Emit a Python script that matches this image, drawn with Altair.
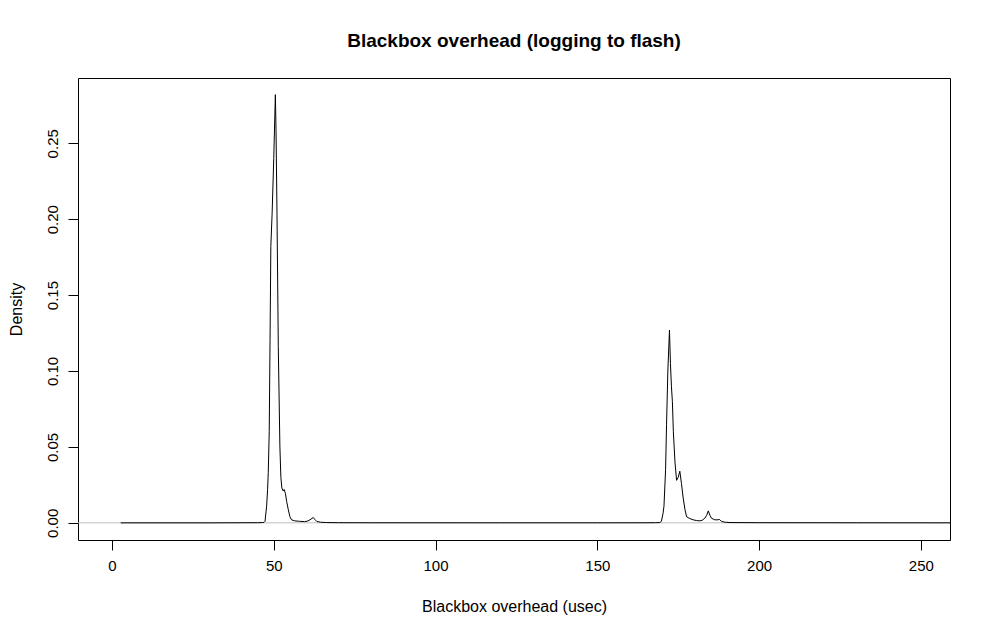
import altair as alt
import pandas as pd

# Density curve (x in usec, density)
xs = [2.7, 30, 45, 46.5, 47.0, 47.3, 47.8, 48.1, 48.3, 48.6, 48.85, 49.1, 49.5, 50.0, 50.5,
      50.7, 51.0, 51.4, 51.9, 52.2, 52.5, 52.9, 53.2, 53.6, 54.0, 54.5, 55.0, 55.5, 56.5,
      58.0, 59.5, 60.5, 61.2, 62.2, 62.8, 63.3, 64.5, 66.3, 70, 80, 120, 150, 165, 168,
      169.3, 169.8, 170.3, 170.6, 171.1, 171.4, 171.8, 172.3, 172.6, 172.9, 173.2, 173.5,
      174.0, 174.5, 175.0, 175.5, 176.0, 176.5, 177.1, 177.6, 178.6, 179.6, 180.7, 181.7,
      182.5, 183.2, 183.8, 184.3, 184.8, 185.3, 186.3, 187.3, 187.8, 188.4, 189.5, 191,
      200, 230, 262]
ys = [0.0, 0.0, 0.0001, 0.0002, 0.0003, 0.001, 0.011, 0.022, 0.033, 0.06, 0.12, 0.182,
      0.204, 0.24, 0.282, 0.259, 0.204, 0.116, 0.050, 0.030, 0.023, 0.021, 0.022, 0.0195,
      0.014, 0.0086, 0.004, 0.002, 0.0013, 0.001, 0.0008, 0.0012, 0.002, 0.0035, 0.002,
      0.0009, 0.0004, 0.0002, 0.0001, 0.00005, 0.00003, 0.00003, 0.00005, 0.0001,
      0.0002, 0.001, 0.006, 0.011, 0.035, 0.065, 0.10, 0.127, 0.105, 0.090, 0.080, 0.060,
      0.040, 0.028, 0.030, 0.034, 0.026, 0.017, 0.0086, 0.004, 0.0028, 0.002, 0.0015,
      0.0013, 0.0018, 0.003, 0.005, 0.0079, 0.005, 0.003, 0.002, 0.002, 0.0022, 0.0009,
      0.0004, 0.0002, 0.0001, 0.00005, 0.0]

x_ticks = [0, 50, 100, 150, 200, 250]
y_ticks = [0.0, 0.05, 0.10, 0.15, 0.20, 0.25]

df = pd.DataFrame({"x": xs, "y": ys})
FONT = "Liberation Sans"

xscale = alt.Scale(domain=[-10.5, 259.0], nice=False, zero=False)
yscale = alt.Scale(domain=[-0.0113, 0.2930], nice=False, zero=False)

xaxis = alt.Axis(values=x_ticks, title="Blackbox overhead (usec)", format="d",
                 grid=False, domain=False, tickSize=10, tickColor="#000",
                 labelFontSize=15, titleFontSize=16, labelFont=FONT, titleFont=FONT,
                 labelColor="#000", titleColor="#000", labelPadding=8, titlePadding=25,
                 titleFontWeight="normal")
yaxis = alt.Axis(values=y_ticks, title="Density", format=".2f",
                 grid=False, domain=False, tickSize=10, tickColor="#000",
                 labelFontSize=15, titleFontSize=16, labelFont=FONT, titleFont=FONT,
                 labelColor="#000", titleColor="#000", labelAngle=270,
                 labelAlign="center", labelBaseline="bottom", labelPadding=8,
                 titlePadding=21, titleFontWeight="normal")

zero = alt.Chart(pd.DataFrame({"z": [0.0]})).mark_rule(color="#BEBEBE", strokeWidth=1).encode(
    y=alt.Y("z:Q", scale=yscale, axis=yaxis)
)

line = alt.Chart(df).mark_line(color="#000", strokeWidth=1, clip=True).encode(
    x=alt.X("x:Q", scale=xscale, axis=xaxis),
    y=alt.Y("y:Q", scale=yscale, axis=yaxis),
)

chart = alt.layer(zero, line).properties(
    width=872, height=462,
    autosize=alt.AutoSizeParams(type="none"),
    padding={"left": 70, "top": 70, "right": 20, "bottom": 80},
    title=alt.TitleParams("Blackbox overhead (logging to flash)", font=FONT, fontSize=19,
                          fontWeight="bold", anchor="middle", frame="group",
                          baseline="alphabetic", offset=12, color="#000"),
    background="white",
).configure_view(stroke="#000", strokeWidth=1)

chart.save("out.html", embed_options={"renderer": "svg", "actions": False})
